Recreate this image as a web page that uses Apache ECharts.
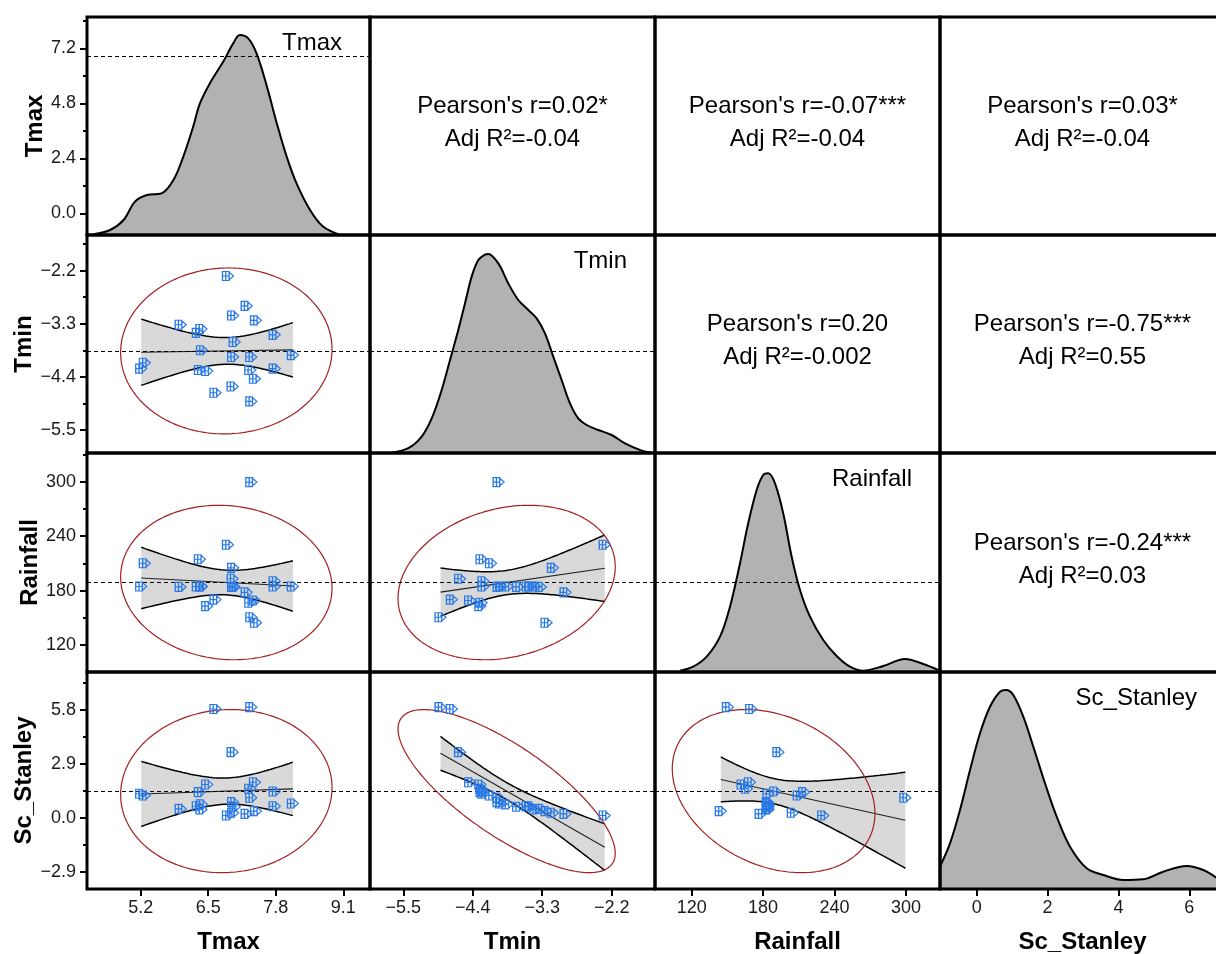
<!DOCTYPE html>
<html><head><meta charset="utf-8">
<script src="https://cdn.jsdelivr.net/npm/echarts@6/dist/echarts.min.js"></script>
<style>html,body{margin:0;padding:0;background:#fff}#chart{width:1216px;height:954px}</style>
</head><body><div id="chart"></div>
<script>
// ---------------- DATA ----------------
const variables = ['Tmax', 'Tmin', 'Rainfall', 'Sc_Stanley'];

const tmax = [6.88, 7.24, 6.98, 7.42, 5.97, 6.37, 6.30, 7.78, 7.01, 6.38, 6.98, 7.33, 8.13, 5.28, 5.21, 6.34, 6.48, 7.31, 7.78, 7.40, 6.97, 6.64, 7.33];
const tmin = [-2.31, -2.93, -3.13, -3.23, -3.32, -3.41, -3.49, -3.53, -3.68, -3.85, -3.99, -3.99, -3.95, -4.11, -4.23, -4.26, -4.28, -4.26, -4.23, -4.44, -4.60, -4.73, -4.91];
const rainfall = [230.5, 178.0, 205.0, 144.5, 184.0, 184.5, 184.5, 184.5, 184.0, 184.5, 184.0, 299.5, 184.5, 210.0, 184.5, 214.5, 162.8, 166.5, 190.3, 169.0, 192.9, 170.0, 150.5];
const scStanley = [0.12, 0.21, 0.27, 0.36, 0.48, 0.45, 0.62, 0.62, 0.59, 0.72, 0.84, 1.08, 0.77, 1.20, 1.29, 1.38, 1.79, 1.56, 1.41, 1.91, 3.53, 5.85, 5.95];

// kernel density curves: [value, relative density]
const tmaxDensity = [[4.29,0.004],[4.61,0.025],[4.87,0.075],[5.09,0.167],[5.32,0.200],[5.60,0.208],[5.83,0.275],[6.02,0.392],[6.21,0.542],[6.34,0.658],[6.53,0.758],[6.79,0.867],[6.98,0.958],[7.11,1.000],[7.27,0.983],[7.43,0.908],[7.63,0.742],[7.82,0.558],[8.01,0.392],[8.20,0.258],[8.46,0.125],[8.71,0.042],[9.04,0.000]];
const tminDensity = [[-5.684,0.0015],[-5.421,0.024],[-5.209,0.082],[-5.05,0.173],[-4.892,0.315],[-4.760,0.465],[-4.629,0.615],[-4.523,0.748],[-4.417,0.882],[-4.312,0.965],[-4.206,0.992],[-4.154,0.995],[-3.995,0.948],[-3.837,0.848],[-3.679,0.765],[-3.520,0.715],[-3.388,0.673],[-3.256,0.598],[-3.125,0.482],[-2.992,0.365],[-2.860,0.248],[-2.729,0.173],[-2.596,0.140],[-2.412,0.115],[-2.200,0.090],[-1.989,0.048],[-1.725,0.012],[-1.567,0.0015]];
const rainfallDensity = [[110.2,0.0065],[121.3,0.0265],[132.6,0.0765],[143.8,0.1765],[152.2,0.3265],[160.6,0.5435],[167.5,0.7435],[174.6,0.910],[180.1,0.985],[184.3,0.9935],[190.0,0.9435],[196.9,0.7935],[204.0,0.5765],[211.0,0.410],[219.4,0.2765],[230.5,0.160],[241.8,0.080],[253.0,0.0265],[264.1,0.0065],[280.9,0.030],[299.2,0.065],[314.5,0.040],[327.1,0.010]];
const scDensity = [[-1.03,0.115],[-0.754,0.2285],[-0.472,0.395],[-0.189,0.595],[0.093,0.7785],[0.375,0.9115],[0.658,0.9865],[0.827,0.995],[1.033,0.970],[1.315,0.8615],[1.598,0.7115],[1.928,0.5285],[2.258,0.3615],[2.634,0.2115],[3.105,0.1035],[3.573,0.070],[4.138,0.045],[4.702,0.0485],[5.267,0.0865],[5.927,0.115],[6.396,0.095],[6.754,0.0585],[7.008,0.030]];

// tick labels
const xTickValues = [[5.2, 6.5, 7.8, 9.1], [-5.5, -4.4, -3.3, -2.2], [120, 180, 240, 300], [0, 2, 4, 6]];
const yTickValues = [[0, 2.4, 4.8, 7.2], [-2.2, -3.3, -4.4, -5.5], [120, 180, 240, 300], [-2.9, 0, 2.9, 5.8]];
const yMinorTickValues = [[1.2, 3.6, 6.0, 8.4], [-1.65, -2.75, -3.85, -4.95], [150, 210, 270, 330], [-1.45, 1.45, 4.35, 7.25]];
const xDecimals = [1, 1, 0, 0];
const yDecimals = [1, 1, 0, 1];

// correlation annotations (upper triangle)
const corrPairs = [[0, 1], [0, 2], [0, 3], [1, 2], [1, 3], [2, 3]];
const pearsonR = ['0.02*', '-0.07***', '0.03*', '0.20', '-0.75***', '-0.24***'];
const adjR2 = ['-0.04', '-0.04', '-0.04', '-0.002', '0.55', '0.03'];

// ---------------- LAYOUT / STYLE ----------------
const FONT = '"Liberation Sans", Arial, Helvetica, sans-serif';
const COL_LEFT = [87, 370, 655, 940], COL_W = [283, 285, 285, 285];
const ROW_TOP = [17, 235, 453, 672], ROW_H = [218, 218, 219, 217];
const X_RANGE = [[4.166, 9.614], [-6.027, -1.514], [89.2, 328.6], [-1.036, 7.008]];
const Y_RANGE = [[-0.947, 8.566], [-5.98, -1.46], [90.2, 331.6], [-3.83, 7.84]];
const DIAG_MEAN_LINE = [true, true, true, false];
const F_CRIT = 3.4668;   // F(0.95; 2, n-2) for n = 23
const T_CRIT = 2.0796;   // t(0.975; n-2) for n = 23
const MARKER = 'path://M0,1H6V8H0Z M3,1V8 M0,4.5H6 M6,1.5L10,4.5L6,7.5';

const columns = [tmax, tmin, rainfall, scStanley];
const densities = [tmaxDensity, tminDensity, rainfallDensity, scDensity];

function fmt(v, d) { return (v < 0 ? '\u2212' : '') + Math.abs(v).toFixed(d); }
function mean(a) { return a.reduce((s, v) => s + v, 0) / a.length; }
function stats(x, y) {
  const n = x.length, mx = mean(x), my = mean(y);
  let sxx = 0, syy = 0, sxy = 0;
  for (let i = 0; i < n; i++) { const dx = x[i] - mx, dy = y[i] - my; sxx += dx * dx; syy += dy * dy; sxy += dx * dy; }
  const b = sxy / sxx, a = my - b * mx;
  const s = Math.sqrt((syy - b * sxy) / (n - 2));
  return { n, mx, my, sxx, syy, sxy, a, b, s, r: sxy / Math.sqrt(sxx * syy) };
}

const grid = [], xAxis = [], yAxis = [], series = [], graphic = [];

for (let r = 0; r < 4; r++) {
  for (let c = 0; c < 4; c++) {
    const g = grid.length;
    grid.push({ left: COL_LEFT[c], top: ROW_TOP[r], width: COL_W[c], height: ROW_H[r], show: false, containLabel: false, outerBoundsMode: 'none' });
    graphic.push({ type: 'rect', silent: true, z: 100, shape: { x: COL_LEFT[c], y: ROW_TOP[r], width: COL_W[c], height: ROW_H[r] }, style: { fill: 'none', stroke: '#000', lineWidth: 3 } });

    // x axis
    if (r === 3) {
      xAxis.push({
        gridIndex: g, type: 'value', position: 'bottom', min: X_RANGE[c][0], max: X_RANGE[c][1],
        axisLine: { show: false, onZero: false }, splitLine: { show: false },
        axisTick: { show: true, customValues: xTickValues[c], length: 7, lineStyle: { color: '#000', width: 2 } },
        axisLabel: { show: true, customValues: xTickValues[c], formatter: v => fmt(v, xDecimals[c]), fontSize: 18, color: '#1a1a1a', fontFamily: FONT, margin: 10 },
        name: variables[c], nameLocation: 'middle', nameGap: 41,
        nameTextStyle: { fontSize: 24, fontWeight: 'bold', fontFamily: FONT, color: '#000' }
      });
    } else {
      xAxis.push({ gridIndex: g, type: 'value', position: 'bottom', min: X_RANGE[c][0], max: X_RANGE[c][1], show: false, axisLine: { onZero: false } });
    }

    // main y axis
    const yMain = yAxis.length;
    if (c === 0) {
      yAxis.push({
        gridIndex: g, type: 'value', position: 'left', min: Y_RANGE[r][0], max: Y_RANGE[r][1],
        axisLine: { show: false, onZero: false }, splitLine: { show: false },
        axisTick: { show: true, customValues: yTickValues[r], length: 7, lineStyle: { color: '#000', width: 2 } },
        axisLabel: { show: true, customValues: yTickValues[r], formatter: v => fmt(v, yDecimals[r]), fontSize: 18, color: '#1a1a1a', fontFamily: FONT, margin: 11 },
        name: variables[r], nameLocation: 'middle', nameGap: 40,
        nameTextStyle: { fontSize: 24, fontWeight: 'bold', fontFamily: FONT, color: '#000' }
      });
      yAxis.push({
        gridIndex: g, type: 'value', position: 'left', min: Y_RANGE[r][0], max: Y_RANGE[r][1],
        axisLine: { show: false, onZero: false }, splitLine: { show: false }, axisLabel: { show: false },
        axisTick: { show: true, customValues: yMinorTickValues[r], length: 4, lineStyle: { color: '#000', width: 2 } }
      });
    } else {
      yAxis.push({ gridIndex: g, type: 'value', position: 'left', min: Y_RANGE[r][0], max: Y_RANGE[r][1], show: false, axisLine: { onZero: false } });
    }

    const meanLine = (val) => ({
      silent: true, symbol: ['none', 'none'], label: { show: false },
      lineStyle: { type: [4, 3], color: '#000', width: 1 },
      data: [{ yAxis: val }]
    });

    if (r === c) {
      const yDens = yAxis.length;
      yAxis.push({ gridIndex: g, type: 'value', position: 'right', min: 0, max: ROW_H[r] / 200, show: false, axisLine: { onZero: false } });
      series.push({
        type: 'line', xAxisIndex: g, yAxisIndex: yDens, data: densities[r], smooth: 0.35,
        showSymbol: false, silent: true, z: 2,
        lineStyle: { color: '#000', width: 2 },
        areaStyle: { color: '#b2b2b2', opacity: 1 }
      });
      if (DIAG_MEAN_LINE[r]) {
        series.push({
          type: 'scatter', xAxisIndex: g, yAxisIndex: yMain, symbolSize: 0, silent: true, z: 5,
          data: [[mean(columns[c]), mean(columns[r])]], markLine: meanLine(mean(columns[r]))
        });
      }
      graphic.push({
        type: 'text', silent: true, z: 110, x: COL_LEFT[c] + COL_W[c] - 28, y: ROW_TOP[r] + 26,
        style: { text: variables[r], fontSize: 24, fontFamily: FONT, fill: '#000', align: 'right', textAlign: 'right', verticalAlign: 'middle', textVerticalAlign: 'middle' }
      });
    } else if (r > c) {
      const X = columns[c], Y = columns[r];
      const st = stats(X, Y);
      const x0 = Math.min(...X), x1 = Math.max(...X);
      const upper = [], lower = [];
      const steps = 80;
      for (let i = 0; i <= steps; i++) {
        const xv = x0 + (x1 - x0) * i / steps;
        const yh = st.a + st.b * xv;
        const h = T_CRIT * st.s * Math.sqrt(1 / st.n + (xv - st.mx) * (xv - st.mx) / st.sxx);
        upper.push([xv, yh + h]);
        lower.push([xv, yh - h]);
      }
      series.push({
        type: 'custom', xAxisIndex: g, yAxisIndex: yMain, silent: true, z: 1,
        data: [[st.mx, st.my]],
        renderItem: function (params, api) {
          const pts = upper.map(p => api.coord(p)).concat(lower.slice().reverse().map(p => api.coord(p)));
          return { type: 'polygon', shape: { points: pts }, style: { fill: '#d9d9d9', stroke: null } };
        }
      });
      [upper, lower].forEach(edge => series.push({
        type: 'line', xAxisIndex: g, yAxisIndex: yMain, data: edge, showSymbol: false, silent: true, z: 3,
        lineStyle: { color: '#000', width: 1.5 }
      }));
      series.push({
        type: 'line', xAxisIndex: g, yAxisIndex: yMain, showSymbol: false, silent: true, z: 3,
        data: [[x0, st.a + st.b * x0], [x1, st.a + st.b * x1]],
        lineStyle: { color: '#222', width: 1.1 }
      });
      // 95% prediction ellipse
      const n = st.n;
      const sx = Math.sqrt(st.sxx / (n - 1)), sy = Math.sqrt(st.syy / (n - 1));
      const k = Math.sqrt(2 * (n - 1) * (n + 1) / (n * (n - 2)) * F_CRIT);
      const ell = [];
      for (let i = 0; i <= 240; i++) {
        const t = 2 * Math.PI * i / 240;
        ell.push([st.mx + k * sx * Math.cos(t), st.my + k * sy * (st.r * Math.cos(t) + Math.sqrt(1 - st.r * st.r) * Math.sin(t))]);
      }
      series.push({
        type: 'line', xAxisIndex: g, yAxisIndex: yMain, data: ell, showSymbol: false, silent: true, z: 4,
        lineStyle: { color: '#a3201f', width: 1.2 }
      });
      series.push({
        type: 'scatter', xAxisIndex: g, yAxisIndex: yMain, silent: true, z: 6,
        data: X.map((v, i) => [v, Y[i]]),
        symbol: MARKER, symbolSize: [11, 9],
        itemStyle: { color: 'rgba(0,0,0,0)', borderColor: '#2878e6', borderWidth: 1.2, opacity: 1 },
        markLine: meanLine(st.my)
      });
    }
  }
}

corrPairs.forEach(([r, c], i) => {
  graphic.push({
    type: 'text', silent: true, z: 110,
    x: COL_LEFT[c] + COL_W[c] / 2, y: ROW_TOP[r] + ROW_H[r] / 2 - 3,
    style: {
      text: "Pearson's r=" + pearsonR[i] + '\nAdj R\u00B2=' + adjR2[i],
      fontSize: 24, fontFamily: FONT, fill: '#000', lineHeight: 33,
      align: 'center', textAlign: 'center', verticalAlign: 'middle', textVerticalAlign: 'middle'
    }
  });
});

const chart = echarts.init(document.getElementById('chart'), null, { renderer: 'canvas', width: 1216, height: 954 });
chart.setOption({
  animation: false,
  backgroundColor: '#fff',
  grid, xAxis, yAxis, series, graphic
});
</script></body></html>
